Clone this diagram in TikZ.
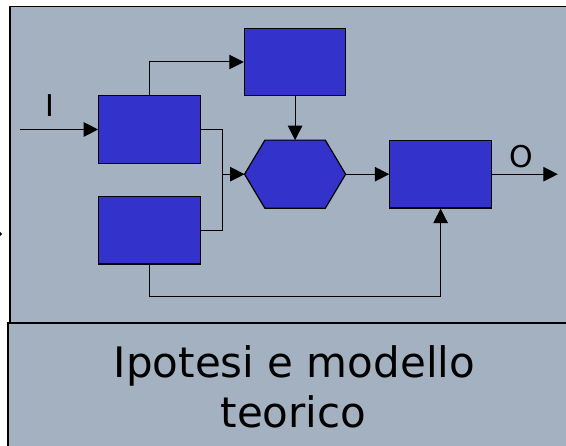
\documentclass[tikz,border=0pt]{standalone}
\usepackage{fontspec}
\setmainfont{DejaVu Sans}
\usetikzlibrary{arrows.meta,calc}
\definecolor{panelgray}{RGB}{163,177,192}
\definecolor{blockblue}{RGB}{51,51,204}
\begin{document}
\begin{tikzpicture}[x=1pt,y=-1pt,
  panel/.style={fill=panelgray,draw=black,line width=1.6pt},
  blockbox/.style={rectangle,fill=blockblue,draw=black,line width=1.2pt,
    minimum width=101.5pt,minimum height=67.7pt,inner sep=0pt},
  hexbox/.style={rectangle,minimum width=100.7pt,minimum height=67.7pt,inner sep=0pt},
  conn/.style={draw=black,line width=1pt},
  flow/.style={conn,-{Triangle[length=14.5pt,width=14.5pt]}},
  iolabel/.style={anchor=base,font=\fontsize{30}{34}\selectfont,inner sep=0pt},
  caption/.style={anchor=base,font=\fontsize{42}{50}\selectfont,inner sep=0pt}]
\useasboundingbox (0,0) rectangle (566,446);

% panels
\path[panel] (10,6.7) rectangle (572,322.7);
\path[panel] (8,323.3) rectangle (572,452);
\fill[black] (0,232) -- (2.2,234) -- (0,236) -- cycle;

% blocks
\node[blockbox] (a) at (149.5,129.5) {};
\node[blockbox] (b) at (295.1,62) {};
\node[blockbox] (c) at (149.5,230.2) {};
\node[hexbox] (h) at (295.1,174.2) {};
\filldraw[fill=blockblue,draw=black,line width=1.2pt]
  (h.west) -- ($(h.north)+(-30.2,0)$) -- ($(h.north)+(30.2,0)$) -- (h.east)
  -- ($(h.south)+(30.2,0)$) -- ($(h.south)+(-30.2,0)$) -- cycle;
\node[blockbox] (d) at (440.6,174.2) {};

% free ends and junctions
\coordinate (in) at (19.9,129.5);
\coordinate (out) at (557.8,174.2);
\coordinate (j) at (222,174.2);
\coordinate (bus) at (300,296.7);

% connectors
\draw[flow] (in) -- (a.west);
\draw[flow] (d.east) -- (out);
\draw[flow] (a.north) |- (b.west);
\draw[flow] (b.south) -- (h.north);
\draw[flow] (a.east) -| (j) -- (h.west);
\draw[conn] (c.east) -| (j);
\draw[flow] (h.east) -- (d.west);
\draw[flow] (c.south) |- (bus) -| (d.south);

% labels
\node[iolabel] (li) at (49.8,116.7) {I};
\node[iolabel] (lo) at (521.7,167.6) {O};
\node[caption] (t1) at (294.5,377.3) {Ipotesi e modello};
\node[caption] (t2) at (293.5,427.3) {teorico};
\end{tikzpicture}
\end{document}
